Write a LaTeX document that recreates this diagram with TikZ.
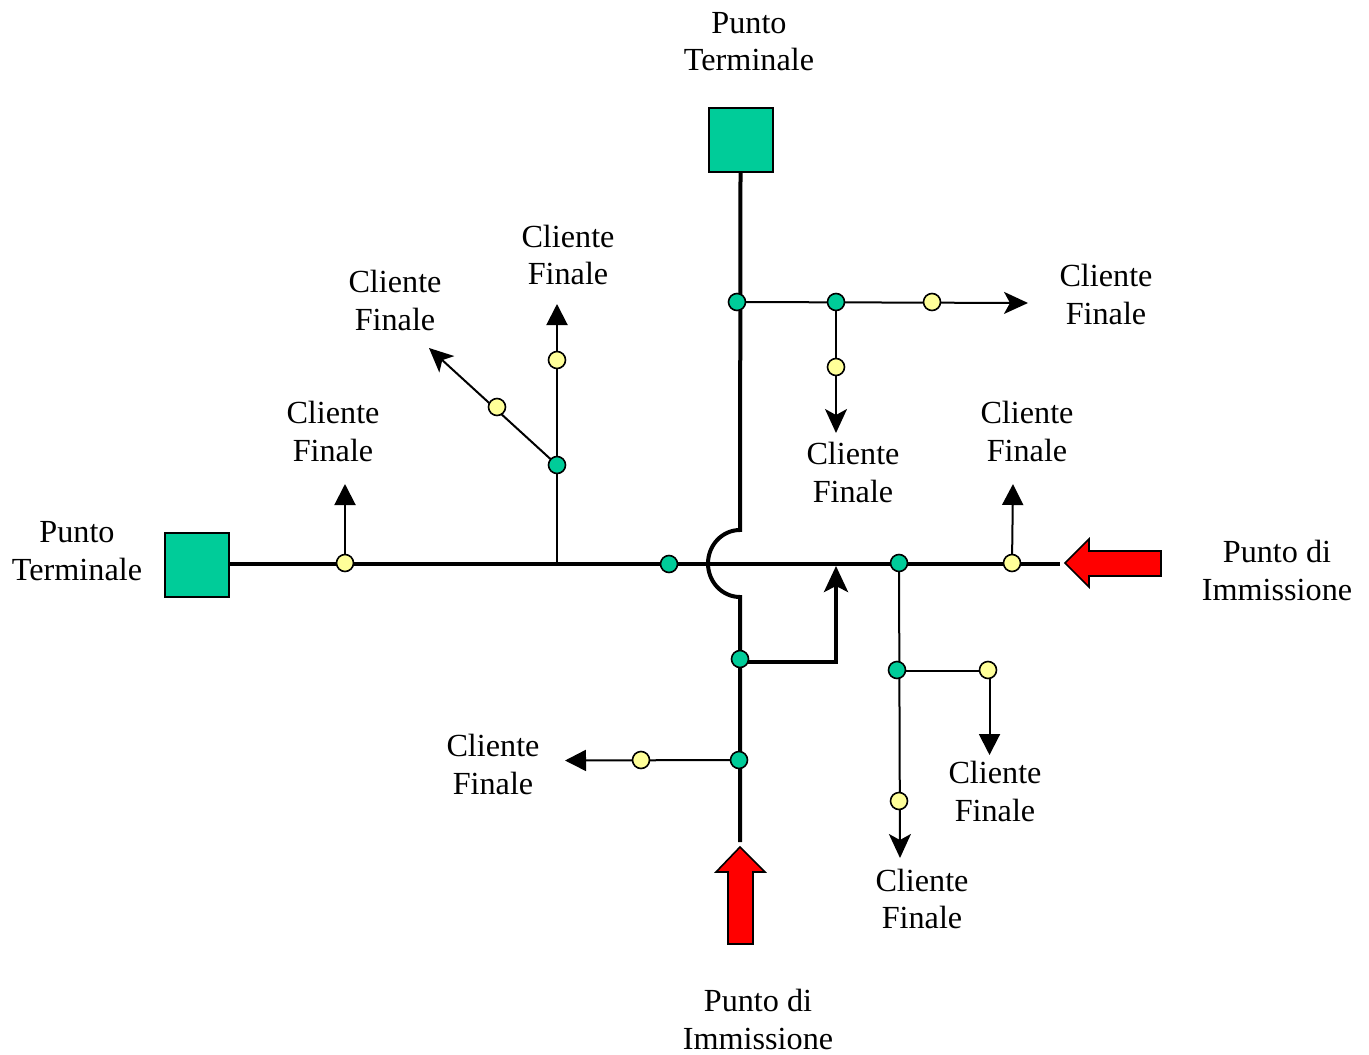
\documentclass[tikz,border=0pt]{standalone}
\usepackage{fontspec}
\setmainfont{Liberation Serif}
\usetikzlibrary{arrows.meta,backgrounds}
\definecolor{termgreen}{RGB}{0,204,153}
\definecolor{dotyellow}{RGB}{255,255,153}
\tikzset{
  bus/.style={line width=2pt},
  branch/.style={line width=1pt},
  tipA/.style={-{Triangle[length=10.5pt,width=10.5pt]}},
  tipB/.style={-{Stealth[length=12pt,width=11pt,inset=3pt]}},
  term/.style={draw,line width=1pt,fill=termgreen,inner sep=0pt,minimum size=32pt},
  jgreen/.style={circle,draw,line width=.8pt,fill=termgreen,inner sep=0pt,minimum size=8.5pt},
  jyellow/.style={circle,draw,line width=.8pt,fill=dotyellow,inner sep=0pt,minimum size=8.5pt},
  feed/.style={draw,line width=.8pt,fill=red},
  lab/.style={align=center,font=\fontsize{16.1}{18.8}\selectfont}
}
\begin{document}
\begin{tikzpicture}[x=.5pt,y=-.5pt]
\useasboundingbox (0,0) rectangle (1369,1054);
% terminal squares
\node[term] (termN) at (740.5,140) {};
\node[term] (termW) at (196.5,565) {};
% junctions
\node[jgreen] (gA) at (737,302) {};
\node[jgreen] (gB) at (836,302) {};
\node[jgreen] (gC) at (557,465) {};
\node[jgreen] (gD) at (669,564) {};
\node[jgreen] (gE) at (899,563) {};
\node[jgreen] (gF) at (897,670) {};
\node[jgreen] (gG) at (740,659) {};
\node[jgreen] (gH) at (739,760) {};
\node[jyellow] (yA) at (932,302) {};
\node[jyellow] (yB) at (836,367) {};
\node[jyellow] (yC) at (557,360) {};
\node[jyellow] (yD) at (497,407) {};
\node[jyellow] (yE) at (345,563) {};
\node[jyellow] (yF) at (1012,563) {};
\node[jyellow] (yG) at (988,670) {};
\node[jyellow] (yH) at (899,801) {};
\node[jyellow] (yI) at (641,760) {};
% free ends
\coordinate (busE) at (1060,564);
\coordinate (busB) at (557,564);
\coordinate (busC) at (899,564);
\coordinate (bendT) at (740,530);
\coordinate (feedS) at (740,842);
\coordinate (turn) at (836,662);
\coordinate (turnE) at (836,566);
\coordinate (turnF) at (989.5,671);
\coordinate (endA) at (1028,303);
\coordinate (endB) at (836,433);
\coordinate (endC) at (557,304);
\coordinate (endD) at (429,348);
\coordinate (endE) at (345,484);
\coordinate (endF) at (1013,484);
\coordinate (endG) at (989.5,755);
\coordinate (endH) at (900,858);
\coordinate (endI) at (565,760.5);
% lines stay under the junctions
\begin{pgfonlayer}{background}
\draw[bus] (termW.east|-busE)--(busE);
\draw[bus] (termN.south)--(bendT) arc[start angle=270,end angle=90,x radius=32,y radius=33.5]--(feedS);
\draw[bus,-{Stealth[length=13pt,width=12pt,inset=3pt]}] (gG.center|-turn)--(turn)--(turnE);
\draw[branch,tipB] (gA.center)--(endA);
\draw[branch,tipB] (gB.center)--(endB);
\draw[branch,tipA] (busB)--(endC);
\draw[branch,tipB] (gC.center)--(endD);
\draw[branch,tipA] (yE.center)--(endE);
\draw[branch,tipA] (yF.center)--(endF);
\draw[branch,tipB] (busC)--(endH);
\draw[branch,tipA] (gF.center|-turnF)--(turnF)--(endG);
\draw[branch,tipA] (gH.center)--(endI);
\end{pgfonlayer}
% feed arrows
\draw[feed] (1065,563)--(1089,539)--(1089,551)--(1161,551)--(1161,576)--(1089,576)--(1089,587)--cycle;
\draw[feed] (740,847)--(765,872)--(753,872)--(753,944)--(728,944)--(728,872)--(716,872)--cycle;
% labels
\node[lab] (lN) at (749,41.5) {Punto\\Terminale};
\node[lab] (lW) at (77,551) {Punto\\Terminale};
\node[lab] (lE) at (1277,570.5) {Punto di\\Immissione};
\node[lab] (lS) at (758,1019.5) {Punto di\\Immissione};
\node[lab] (cA) at (1106,294.5) {Cliente\\Finale};
\node[lab] (cB) at (853,472.5) {Cliente\\Finale};
\node[lab] (cC) at (568,255) {Cliente\\Finale};
\node[lab] (cD) at (395,300.5) {Cliente\\Finale};
\node[lab] (cE) at (333,431.5) {Cliente\\Finale};
\node[lab] (cF) at (1027,431.5) {Cliente\\Finale};
\node[lab] (cG) at (995,791.5) {Cliente\\Finale};
\node[lab] (cH) at (922,899) {Cliente\\Finale};
\node[lab] (cI) at (493,764.5) {Cliente\\Finale};
\end{tikzpicture}
\end{document}
